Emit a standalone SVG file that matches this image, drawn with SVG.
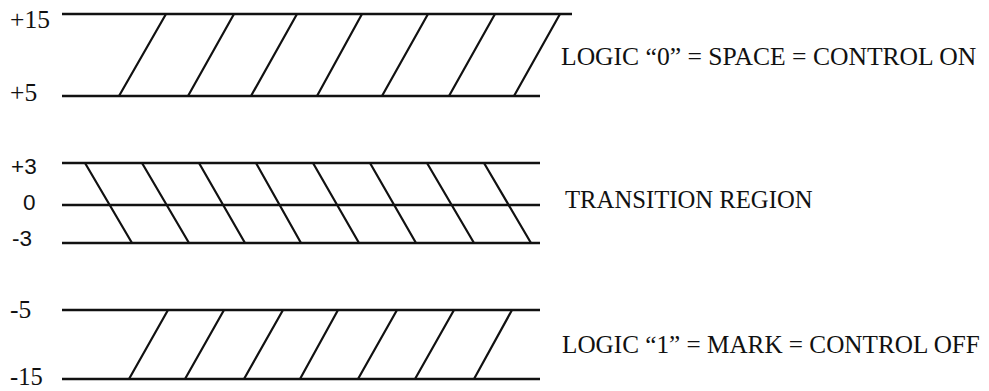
<svg xmlns="http://www.w3.org/2000/svg" width="989" height="391" viewBox="0 0 989 391">
<style>
.ln{stroke:#111;stroke-width:2.6;fill:none}
.dg{stroke:#111;stroke-width:2.2;fill:none}
.serif{font-family:"Liberation Serif","Times New Roman",serif;fill:#111}
.sans{font-family:"Liberation Sans",Arial,sans-serif;fill:#111}
</style>
<rect width="989" height="391" fill="#fff"/>
<g id="band-logic0">
<line class="ln" x1="62" y1="14" x2="572" y2="14"/>
<line class="ln" x1="62" y1="96" x2="540" y2="96"/>
<path class="dg" d="M119,96L166,14M188,96L234,14M251,96L297,14M317,96L362,14M382,96L428,14M449,96L495,14M514,96L560,14"/>
<text class="serif" font-size="25.5" x="10" y="28">+15</text>
<text class="serif" font-size="25.5" x="10" y="101">+5</text>
<text class="serif" font-size="25.6" x="561" y="65">LOGIC “0” = SPACE = CONTROL ON</text>
</g>
<g id="band-transition">
<line class="ln" x1="62" y1="163" x2="540" y2="163"/>
<line class="ln" x1="62" y1="205" x2="540" y2="205"/>
<line class="ln" x1="62" y1="243" x2="540" y2="243"/>
<path class="dg" d="M85,163L132,243M142,163L189,243M199,163L245,243M256,163L301,243M313,163L359,243M370,163L416,243M427,163L474,243M484,163L531,243"/>
<text class="sans" font-size="22.5" x="11" y="174">+3</text>
<text class="sans" font-size="22.5" x="23" y="210">0</text>
<text class="sans" font-size="22.5" x="12" y="246">-3</text>
<text class="serif" font-size="24.7" x="565" y="208">TRANSITION REGION</text>
</g>
<g id="band-logic1">
<line class="ln" x1="62" y1="310" x2="540" y2="310"/>
<line class="ln" x1="62" y1="379" x2="540" y2="379"/>
<path class="dg" d="M129,379L168,310M185,379L224,310M244,379L283,310M300,379L338,310M358,379L397,310M415,379L454,310M474,379L512,310"/>
<text class="serif" font-size="25.5" x="10" y="318">-5</text>
<text class="serif" font-size="24.5" x="10" y="385">-15</text>
<text class="serif" font-size="25.2" x="562" y="353">LOGIC “1” = MARK = CONTROL OFF</text>
</g>
<g id="connectors"/>
</svg>
